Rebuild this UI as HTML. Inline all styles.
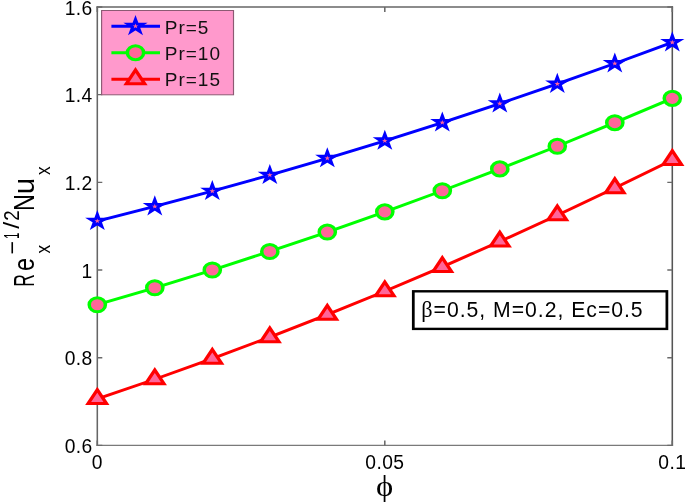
<!DOCTYPE html>
<html><head><meta charset="utf-8"><style>html,body{margin:0;padding:0;background:#fff;overflow:hidden;width:685px;height:502px}</style></head>
<body>
<svg width="685" height="502" viewBox="0 0 595.6522 502" preserveAspectRatio="none" style="display:block">
<rect x="0" y="0" width="595.6522" height="502" fill="#ffffff"/>
<path d="M84.61,6.33 V446.07" stroke="#666" stroke-width="1.35" fill="none"/>
<path d="M584.61,6.33 V446.07" stroke="#555" stroke-width="1.35" fill="none"/>
<path d="M83.93,7.00 H585.28" stroke="#666" stroke-width="1.35" fill="none"/>
<path d="M83.93,445.40 H585.28" stroke="#7a7a7a" stroke-width="1.35" fill="none"/>
<path d="M84.61,445.40 h4.35 M584.61,445.40 h-4.35 M84.61,357.72 h4.35 M584.61,357.72 h-4.35 M84.61,270.04 h4.35 M584.61,270.04 h-4.35 M84.61,182.36 h4.35 M584.61,182.36 h-4.35 M84.61,94.68 h4.35 M584.61,94.68 h-4.35 M84.61,7.00 h4.35 M584.61,7.00 h-4.35 M84.61,445.4 v-5.0 M84.61,7.0 v5.0 M334.61,445.4 v-5.0 M334.61,7.0 v5.0 M584.61,445.4 v-5.0 M584.61,7.0 v5.0" stroke="#6a6a6a" stroke-width="1.35" fill="none"/>
<text transform="translate(80.52,452.90) scale(0.85,1)" font-family="Liberation Sans, Arial, sans-serif" font-size="19.7" text-anchor="end" letter-spacing="0.4" fill="#000">0.6</text>
<text transform="translate(80.52,365.22) scale(0.85,1)" font-family="Liberation Sans, Arial, sans-serif" font-size="19.7" text-anchor="end" letter-spacing="0.4" fill="#000">0.8</text>
<text transform="translate(80.52,277.54) scale(0.85,1)" font-family="Liberation Sans, Arial, sans-serif" font-size="19.7" text-anchor="end" letter-spacing="0.4" fill="#000">1</text>
<text transform="translate(80.52,189.86) scale(0.85,1)" font-family="Liberation Sans, Arial, sans-serif" font-size="19.7" text-anchor="end" letter-spacing="0.4" fill="#000">1.2</text>
<text transform="translate(80.52,102.18) scale(0.85,1)" font-family="Liberation Sans, Arial, sans-serif" font-size="19.7" text-anchor="end" letter-spacing="0.4" fill="#000">1.4</text>
<text transform="translate(80.52,14.50) scale(0.85,1)" font-family="Liberation Sans, Arial, sans-serif" font-size="19.7" text-anchor="end" letter-spacing="0.4" fill="#000">1.6</text>
<text transform="translate(84.61,468.6) scale(0.85,1)" font-family="Liberation Sans, Arial, sans-serif" font-size="19.7" text-anchor="middle" letter-spacing="0.4" fill="#000">0</text>
<text transform="translate(334.61,468.6) scale(0.85,1)" font-family="Liberation Sans, Arial, sans-serif" font-size="19.7" text-anchor="middle" letter-spacing="0.4" fill="#000">0.05</text>
<text transform="translate(584.61,468.6) scale(0.85,1)" font-family="Liberation Sans, Arial, sans-serif" font-size="19.7" text-anchor="middle" letter-spacing="0.4" fill="#000">0.1</text>
<polyline points="84.61,221.08 134.61,206.47 184.61,191.13 234.61,175.07 284.61,158.29 334.61,140.78 384.61,122.55 434.61,103.60 484.61,83.92 534.61,63.52 584.61,42.39" fill="none" stroke="#0000ff" stroke-width="2.9" stroke-linejoin="round"/>
<polyline points="84.61,304.72 134.61,287.79 184.61,270.04 234.61,251.46 284.61,232.06 334.61,211.83 384.61,190.78 434.61,168.91 484.61,146.21 534.61,122.68 584.61,98.34" fill="none" stroke="#00ff00" stroke-width="2.9" stroke-linejoin="round"/>
<polyline points="84.61,398.88 134.61,379.23 184.61,358.64 234.61,337.10 284.61,314.62 334.61,291.20 384.61,266.83 434.61,241.52 484.61,215.27 534.61,188.07 584.61,159.93" fill="none" stroke="#ff0000" stroke-width="2.9" stroke-linejoin="round"/>
<path d="M84.61,214.83 L86.01,219.15 L90.55,219.15 L86.88,221.82 L88.28,226.14 L84.61,223.47 L80.94,226.14 L82.34,221.82 L78.66,219.15 L83.21,219.15 Z" fill="#ff6699" stroke="#0000ff" stroke-width="3.0" stroke-linejoin="miter" stroke-miterlimit="10"/><path d="M84.61,218.48 L85.19,220.28 L87.08,220.28 L85.55,221.39 L86.14,223.19 L84.61,222.08 L83.08,223.19 L83.66,221.39 L82.14,220.28 L84.02,220.28 Z" fill="#ff6699"/>
<path d="M134.61,200.22 L136.01,204.54 L140.55,204.54 L136.88,207.21 L138.28,211.53 L134.61,208.86 L130.94,211.53 L132.34,207.21 L128.66,204.54 L133.21,204.54 Z" fill="#ff6699" stroke="#0000ff" stroke-width="3.0" stroke-linejoin="miter" stroke-miterlimit="10"/><path d="M134.61,203.87 L135.19,205.67 L137.08,205.67 L135.55,206.78 L136.14,208.57 L134.61,207.46 L133.08,208.57 L133.66,206.78 L132.14,205.67 L134.02,205.67 Z" fill="#ff6699"/>
<path d="M184.61,184.88 L186.01,189.20 L190.55,189.20 L186.88,191.87 L188.28,196.19 L184.61,193.52 L180.94,196.19 L182.34,191.87 L178.66,189.20 L183.21,189.20 Z" fill="#ff6699" stroke="#0000ff" stroke-width="3.0" stroke-linejoin="miter" stroke-miterlimit="10"/><path d="M184.61,188.53 L185.19,190.33 L187.08,190.33 L185.55,191.44 L186.14,193.24 L184.61,192.13 L183.08,193.24 L183.66,191.44 L182.14,190.33 L184.02,190.33 Z" fill="#ff6699"/>
<path d="M234.61,168.82 L236.01,173.14 L240.55,173.14 L236.88,175.81 L238.28,180.13 L234.61,177.46 L230.94,180.13 L232.34,175.81 L228.66,173.14 L233.21,173.14 Z" fill="#ff6699" stroke="#0000ff" stroke-width="3.0" stroke-linejoin="miter" stroke-miterlimit="10"/><path d="M234.61,172.47 L235.19,174.27 L237.08,174.27 L235.55,175.38 L236.14,177.18 L234.61,176.07 L233.08,177.18 L233.66,175.38 L232.14,174.27 L234.02,174.27 Z" fill="#ff6699"/>
<path d="M284.61,152.04 L286.01,156.36 L290.55,156.36 L286.88,159.03 L288.28,163.35 L284.61,160.68 L280.94,163.35 L282.34,159.03 L278.66,156.36 L283.21,156.36 Z" fill="#ff6699" stroke="#0000ff" stroke-width="3.0" stroke-linejoin="miter" stroke-miterlimit="10"/><path d="M284.61,155.69 L285.19,157.49 L287.08,157.49 L285.55,158.60 L286.14,160.39 L284.61,159.28 L283.08,160.39 L283.66,158.60 L282.14,157.49 L284.02,157.49 Z" fill="#ff6699"/>
<path d="M334.61,134.53 L336.01,138.85 L340.55,138.85 L336.88,141.52 L338.28,145.84 L334.61,143.17 L330.94,145.84 L332.34,141.52 L328.66,138.85 L333.21,138.85 Z" fill="#ff6699" stroke="#0000ff" stroke-width="3.0" stroke-linejoin="miter" stroke-miterlimit="10"/><path d="M334.61,138.18 L335.19,139.98 L337.08,139.98 L335.55,141.09 L336.14,142.88 L334.61,141.77 L333.08,142.88 L333.66,141.09 L332.14,139.98 L334.02,139.98 Z" fill="#ff6699"/>
<path d="M384.61,116.30 L386.01,120.62 L390.55,120.62 L386.88,123.29 L388.28,127.61 L384.61,124.94 L380.94,127.61 L382.34,123.29 L378.66,120.62 L383.21,120.62 Z" fill="#ff6699" stroke="#0000ff" stroke-width="3.0" stroke-linejoin="miter" stroke-miterlimit="10"/><path d="M384.61,119.95 L385.19,121.75 L387.08,121.75 L385.55,122.86 L386.14,124.65 L384.61,123.54 L383.08,124.65 L383.66,122.86 L382.14,121.75 L384.02,121.75 Z" fill="#ff6699"/>
<path d="M434.61,97.35 L436.01,101.66 L440.55,101.66 L436.88,104.33 L438.28,108.65 L434.61,105.98 L430.94,108.65 L432.34,104.33 L428.66,101.66 L433.21,101.66 Z" fill="#ff6699" stroke="#0000ff" stroke-width="3.0" stroke-linejoin="miter" stroke-miterlimit="10"/><path d="M434.61,101.00 L435.19,102.79 L437.08,102.79 L435.55,103.90 L436.14,105.70 L434.61,104.59 L433.08,105.70 L433.66,103.90 L432.14,102.79 L434.02,102.79 Z" fill="#ff6699"/>
<path d="M484.61,77.67 L486.01,81.99 L490.55,81.99 L486.88,84.66 L488.28,88.97 L484.61,86.31 L480.94,88.97 L482.34,84.66 L478.66,81.99 L483.21,81.99 Z" fill="#ff6699" stroke="#0000ff" stroke-width="3.0" stroke-linejoin="miter" stroke-miterlimit="10"/><path d="M484.61,81.32 L485.19,83.11 L487.08,83.11 L485.55,84.23 L486.14,86.02 L484.61,84.91 L483.08,86.02 L483.66,84.23 L482.14,83.11 L484.02,83.11 Z" fill="#ff6699"/>
<path d="M534.61,57.27 L536.01,61.59 L540.55,61.59 L536.88,64.25 L538.28,68.57 L534.61,65.90 L530.94,68.57 L532.34,64.25 L528.66,61.59 L533.21,61.59 Z" fill="#ff6699" stroke="#0000ff" stroke-width="3.0" stroke-linejoin="miter" stroke-miterlimit="10"/><path d="M534.61,60.92 L535.19,62.71 L537.08,62.71 L535.55,63.82 L536.14,65.62 L534.61,64.51 L533.08,65.62 L533.66,63.82 L532.14,62.71 L534.02,62.71 Z" fill="#ff6699"/>
<path d="M584.61,36.14 L586.01,40.46 L590.55,40.46 L586.88,43.13 L588.28,47.45 L584.61,44.78 L580.94,47.45 L582.34,43.13 L578.66,40.46 L583.21,40.46 Z" fill="#ff6699" stroke="#0000ff" stroke-width="3.0" stroke-linejoin="miter" stroke-miterlimit="10"/><path d="M584.61,39.79 L585.19,41.59 L587.08,41.59 L585.55,42.70 L586.14,44.50 L584.61,43.38 L583.08,44.50 L583.66,42.70 L582.14,41.59 L584.02,41.59 Z" fill="#ff6699"/>
<circle cx="84.61" cy="304.72" r="7.05" fill="#ff6699" stroke="#00ff00" stroke-width="3.0"/>
<circle cx="134.61" cy="287.79" r="7.05" fill="#ff6699" stroke="#00ff00" stroke-width="3.0"/>
<circle cx="184.61" cy="270.04" r="7.05" fill="#ff6699" stroke="#00ff00" stroke-width="3.0"/>
<circle cx="234.61" cy="251.46" r="7.05" fill="#ff6699" stroke="#00ff00" stroke-width="3.0"/>
<circle cx="284.61" cy="232.06" r="7.05" fill="#ff6699" stroke="#00ff00" stroke-width="3.0"/>
<circle cx="334.61" cy="211.83" r="7.05" fill="#ff6699" stroke="#00ff00" stroke-width="3.0"/>
<circle cx="384.61" cy="190.78" r="7.05" fill="#ff6699" stroke="#00ff00" stroke-width="3.0"/>
<circle cx="434.61" cy="168.91" r="7.05" fill="#ff6699" stroke="#00ff00" stroke-width="3.0"/>
<circle cx="484.61" cy="146.21" r="7.05" fill="#ff6699" stroke="#00ff00" stroke-width="3.0"/>
<circle cx="534.61" cy="122.68" r="7.05" fill="#ff6699" stroke="#00ff00" stroke-width="3.0"/>
<circle cx="584.61" cy="98.34" r="7.05" fill="#ff6699" stroke="#00ff00" stroke-width="3.0"/>
<path d="M84.61,389.68 L92.58,403.48 L76.64,403.48 Z" fill="#ff6699" stroke="#ff0000" stroke-width="3.0" stroke-linejoin="miter" stroke-miterlimit="10"/>
<path d="M134.61,370.03 L142.58,383.83 L126.64,383.83 Z" fill="#ff6699" stroke="#ff0000" stroke-width="3.0" stroke-linejoin="miter" stroke-miterlimit="10"/>
<path d="M184.61,349.44 L192.58,363.24 L176.64,363.24 Z" fill="#ff6699" stroke="#ff0000" stroke-width="3.0" stroke-linejoin="miter" stroke-miterlimit="10"/>
<path d="M234.61,327.90 L242.58,341.70 L226.64,341.70 Z" fill="#ff6699" stroke="#ff0000" stroke-width="3.0" stroke-linejoin="miter" stroke-miterlimit="10"/>
<path d="M284.61,305.42 L292.58,319.22 L276.64,319.22 Z" fill="#ff6699" stroke="#ff0000" stroke-width="3.0" stroke-linejoin="miter" stroke-miterlimit="10"/>
<path d="M334.61,282.00 L342.58,295.80 L326.64,295.80 Z" fill="#ff6699" stroke="#ff0000" stroke-width="3.0" stroke-linejoin="miter" stroke-miterlimit="10"/>
<path d="M384.61,257.63 L392.58,271.43 L376.64,271.43 Z" fill="#ff6699" stroke="#ff0000" stroke-width="3.0" stroke-linejoin="miter" stroke-miterlimit="10"/>
<path d="M434.61,232.32 L442.58,246.12 L426.64,246.12 Z" fill="#ff6699" stroke="#ff0000" stroke-width="3.0" stroke-linejoin="miter" stroke-miterlimit="10"/>
<path d="M484.61,206.07 L492.58,219.87 L476.64,219.87 Z" fill="#ff6699" stroke="#ff0000" stroke-width="3.0" stroke-linejoin="miter" stroke-miterlimit="10"/>
<path d="M534.61,178.87 L542.58,192.67 L526.64,192.67 Z" fill="#ff6699" stroke="#ff0000" stroke-width="3.0" stroke-linejoin="miter" stroke-miterlimit="10"/>
<path d="M584.61,150.73 L592.58,164.53 L576.64,164.53 Z" fill="#ff6699" stroke="#ff0000" stroke-width="3.0" stroke-linejoin="miter" stroke-miterlimit="10"/>
<rect x="88.35" y="10.5" width="114.70" height="84.3" fill="#ff99cc" stroke="#8c5a73" stroke-width="1"/>
<line x1="96.87" y1="26.2" x2="139.13" y2="26.2" stroke="#0000ff" stroke-width="2.9"/>
<path d="M117.83,19.95 L119.23,24.27 L123.77,24.27 L120.10,26.94 L121.50,31.26 L117.83,28.59 L114.15,31.26 L115.56,26.94 L111.88,24.27 L116.42,24.27 Z" fill="#ff6699" stroke="#0000ff" stroke-width="3.0" stroke-linejoin="miter" stroke-miterlimit="10"/><path d="M117.83,23.60 L118.41,25.40 L120.30,25.40 L118.77,26.51 L119.35,28.30 L117.83,27.19 L116.30,28.30 L116.88,26.51 L115.35,25.40 L117.24,25.40 Z" fill="#ff6699"/>
<line x1="96.87" y1="52.7" x2="139.13" y2="52.7" stroke="#00ff00" stroke-width="2.9"/>
<circle cx="117.83" cy="52.70" r="7.05" fill="#ff6699" stroke="#00ff00" stroke-width="3.0"/>
<line x1="96.87" y1="79.2" x2="139.13" y2="79.2" stroke="#ff0000" stroke-width="2.9"/>
<path d="M117.83,70.00 L125.79,83.80 L109.86,83.80 Z" fill="#ff6699" stroke="#ff0000" stroke-width="3.0" stroke-linejoin="miter" stroke-miterlimit="10"/>
<text transform="translate(143.22,33.6) scale(0.87,1)" font-family="Liberation Sans, Arial, sans-serif" font-size="19.0" letter-spacing="1.0" fill="#111">Pr=5</text>
<text transform="translate(143.22,59.9) scale(0.87,1)" font-family="Liberation Sans, Arial, sans-serif" font-size="19.0" letter-spacing="1.0" fill="#111">Pr=10</text>
<text transform="translate(143.22,86.3) scale(0.87,1)" font-family="Liberation Sans, Arial, sans-serif" font-size="19.0" letter-spacing="1.0" fill="#111">Pr=15</text>
<rect x="359.39" y="291.3" width="220.52" height="37.60" fill="#fff" stroke="#000" stroke-width="2.4"/>
<text transform="translate(366.35,317.4) scale(0.85,1)" font-family="Liberation Sans, Arial, sans-serif" font-size="21.7" letter-spacing="1.0" fill="#000"><tspan font-family="Liberation Serif, serif" font-size="22.8">β</tspan>=0.5, M=0.2, Ec=0.5</text>
<text x="334.35" y="495.8" font-family="Liberation Serif, serif" font-size="28.4" text-anchor="middle" fill="#000">ϕ</text>
<text transform="translate(30.00,286.84) rotate(-90) scale(0.666,1)" font-family="Liberation Sans, Arial, sans-serif" font-size="26.3" fill="#000">R</text>
<text transform="translate(30.00,270.98) rotate(-90) scale(0.890,1)" font-family="Liberation Sans, Arial, sans-serif" font-size="26.3" fill="#000">e</text>
<text transform="translate(43.91,253.49) rotate(-90) scale(0.949,1)" font-family="Liberation Sans, Arial, sans-serif" font-size="18.3" fill="#000">x</text>
<text transform="translate(17.04,254.54) rotate(-90) scale(1.174,1)" font-family="Liberation Sans, Arial, sans-serif" font-size="19.8" fill="#000">−</text>
<text transform="translate(16.35,238.81) rotate(-90) scale(0.539,1)" font-family="Liberation Sans, Arial, sans-serif" font-size="19.8" fill="#000">1</text>
<text transform="translate(16.35,228.70) rotate(-90) scale(1.254,1)" font-family="Liberation Sans, Arial, sans-serif" font-size="19.8" fill="#000">/</text>
<text transform="translate(16.35,220.83) rotate(-90) scale(0.941,1)" font-family="Liberation Sans, Arial, sans-serif" font-size="19.8" fill="#000">2</text>
<text transform="translate(30.00,211.02) rotate(-90) scale(0.891,1)" font-family="Liberation Sans, Arial, sans-serif" font-size="26.3" fill="#000">N</text>
<text transform="translate(30.00,194.31) rotate(-90) scale(1.118,1)" font-family="Liberation Sans, Arial, sans-serif" font-size="26.3" fill="#000">u</text>
<text transform="translate(43.91,175.09) rotate(-90) scale(0.937,1)" font-family="Liberation Sans, Arial, sans-serif" font-size="18.3" fill="#000">x</text>
</svg>
</body></html>
